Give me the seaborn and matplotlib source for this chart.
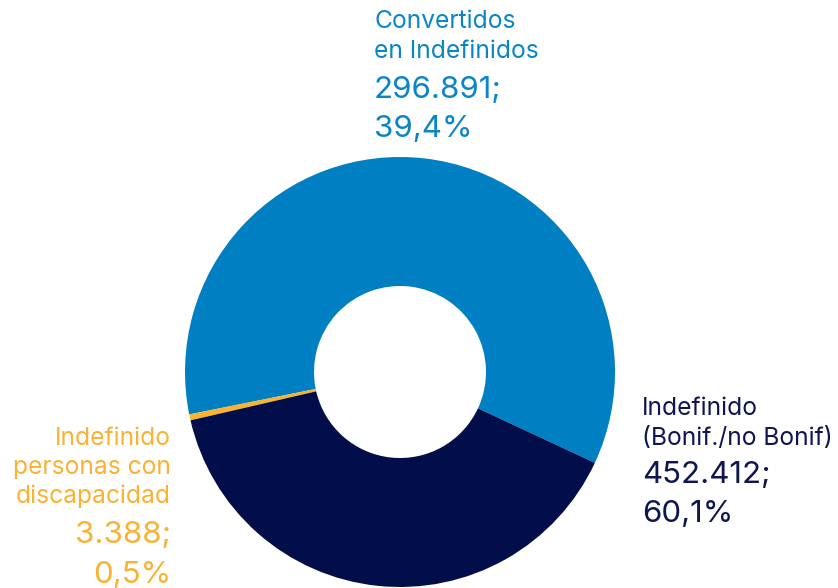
import matplotlib
matplotlib.use("Agg")
import matplotlib.pyplot as plt
import seaborn as sns

# Data
categories = ["Convertidos en Indefinidos", "Indefinido personas con discapacidad", "Indefinido (Bonif./no Bonif)"]
# slice sizes as drawn in the reference (light blue, orange, navy)
slice_values = [452412, 3388, 296891]
colors = ["#007FC3", "#FBB22D", "#020E4A"]

label_names = [["Convertidos", "en Indefinidos"],
               ["Indefinido", "(Bonif./no Bonif)"],
               ["Indefinido", "personas con", "discapacidad"]]
label_values = [["296.891;", "39,4%"],
                ["452.412;", "60,1%"],
                ["3.388;", "0,5%"]]
text_colors = ["#0A85C8", "#0E1650", "#F9B233"]

sns.set_theme(style="white")
plt.rcParams["font.family"] = ["Inter", "DejaVu Sans"]

W, H = 838, 588
fig = plt.figure(figsize=(W / 100, H / 100), dpi=100)
fig.patch.set_facecolor("white")

cx, cy, r = 400, 372, 215
ax = fig.add_axes([(cx - r) / W, (H - cy - r) / H, 2 * r / W, 2 * r / H])
ax.pie(slice_values, colors=colors, startangle=-25, counterclock=True,
       radius=1, wedgeprops=dict(width=0.6, linewidth=0))
ax.set_xlim(-1, 1)
ax.set_ylim(-1, 1)
ax.set_axis_off()

name_fs = 17.7
val_fs = 22.5

def put(x, y, s, color, fs, ha):
    fig.text(x / W, 1 - y / H, s, color=color, fontsize=fs, ha=ha, va="baseline")

# Blue label (top)
for s, y in zip(label_names[0], [28, 58]):
    put(374, y, s, text_colors[0], name_fs, "left")
for s, y in zip(label_values[0], [98, 137]):
    put(374, y, s, text_colors[0], val_fs, "left")

# Navy label (right)
for s, y in zip(label_names[1], [415, 445]):
    put(642, y, s, text_colors[1], name_fs, "left")
for s, y in zip(label_values[1], [483, 522]):
    put(642, y, s, text_colors[1], val_fs, "left")

# Orange label (left)
for s, y in zip(label_names[2], [445, 474, 503]):
    put(171, y, s, text_colors[2], name_fs, "right")
for s, y in zip(label_values[2], [543, 583]):
    put(171, y, s, text_colors[2], val_fs, "right")

fig.savefig("out.png", dpi=100, facecolor="white")
